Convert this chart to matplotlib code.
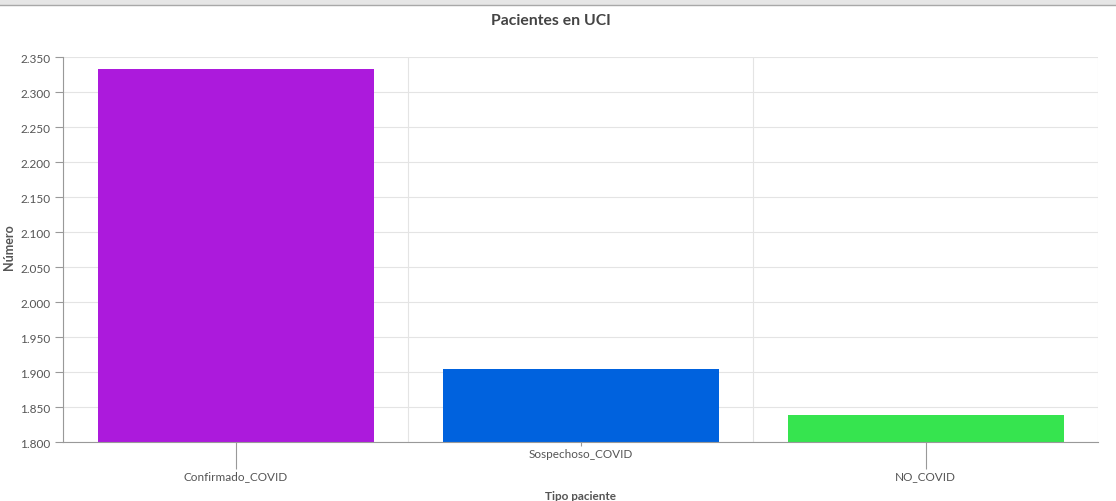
import numpy as np
import matplotlib.pyplot as plt
from matplotlib.ticker import FuncFormatter, MultipleLocator
from matplotlib.patches import Rectangle

categorias = ["Confirmado_COVID", "Sospechoso_COVID", "NO_COVID"]
pacientes = [2333, 1904, 1839]
colores = ["#ac1adc", "#0062de", "#36e44f"]

plt.rcParams['font.family'] = ['Lato', 'DejaVu Sans']

W, H = 1116, 502
fig = plt.figure(figsize=(W / 100, H / 100), dpi=100)
ax = fig.add_axes([63 / W, (H - 443) / H, (1098 - 63) / W, (443 - 58) / H])

x = np.arange(len(categorias))
ax.bar(x, pacientes, width=0.8, color=colores, zorder=2)

ax.set_xlim(-0.5, len(categorias) - 0.5)
ax.set_ylim(1800, 2350)
ax.yaxis.set_major_locator(MultipleLocator(50))
ax.yaxis.set_major_formatter(FuncFormatter(lambda v, p: f"{int(round(v)):,}".replace(",", ".")))

# vertical grid between categories
ax.set_xticks(np.arange(len(categorias) + 1) - 0.5, minor=True)
ax.grid(axis='y', which='major', color='#e4e4e4', lw=0.8, zorder=0)
ax.grid(axis='x', which='minor', color='#e4e4e4', lw=0.8, zorder=0)
ax.tick_params(axis='x', which='minor', length=0)

ax.set_xticks(x)
ax.set_xticklabels(categorias)
ax.tick_params(axis='both', colors='#555555', labelsize=8.5)
ax.tick_params(axis='y', length=6, width=0.8, color='#999999', pad=3)
ax.tick_params(axis='x', width=0.8, color='#999999')

# staggered labels like the original
for i, t in enumerate(ax.xaxis.get_major_ticks()):
    if i % 2 == 1:
        t._apply_params(size=3, pad=1)
    else:
        t._apply_params(size=19.5, pad=1)

for s in ['top', 'right']:
    ax.spines[s].set_visible(False)
ax.spines['left'].set_color('#999999')
ax.spines['bottom'].set_color('#999999')
ax.spines['left'].set_linewidth(0.8)
ax.spines['bottom'].set_linewidth(0.8)

ax.set_ylabel("Número", fontsize=9, fontweight='bold', color='#555555')
ax.yaxis.set_label_coords(-0.046, 0.51)
ax.set_xlabel("Tipo paciente", fontsize=8.5, fontweight='bold', color='#555555')
ax.xaxis.set_label_coords(0.5, -0.1255)

fig.text(551 / W, 1 - 21 / H, "Pacientes en UCI", ha='center', va='center',
         fontsize=11.3, fontweight='bold', color='#444444')

# top browser strip
fig.patches.append(Rectangle((0, 1 - 6 / H), 1, 6 / H, transform=fig.transFigure,
                             facecolor='#e6e6e6', edgecolor='none'))
fig.lines.append(plt.Line2D([0, 1], [1 - 6 / H, 1 - 6 / H], transform=fig.transFigure,
                            color='#a8a8a8', lw=1))

fig.savefig("out.png", dpi=100)
